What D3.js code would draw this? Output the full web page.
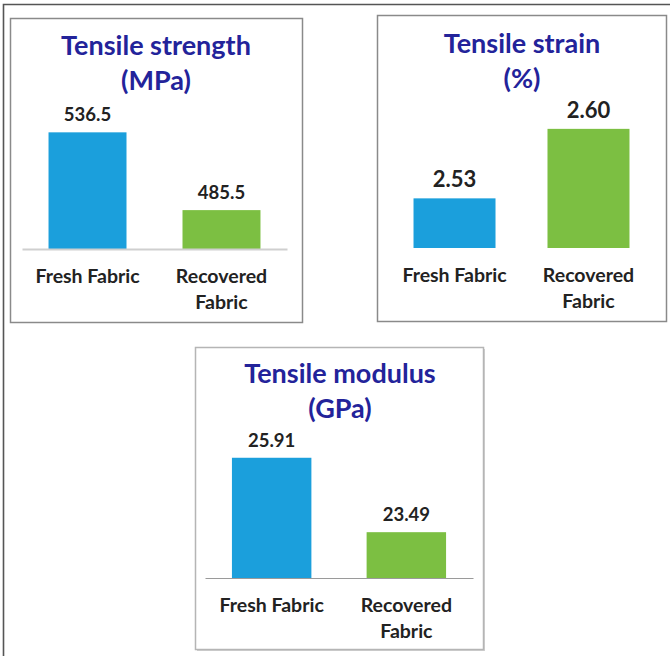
<!DOCTYPE html>
<html>
<head>
<meta charset="utf-8">
<script src="https://cdn.jsdelivr.net/npm/d3@7"></script>
<style>
  html, body { margin: 0; padding: 0; background: #fff; }
  svg { display: block; }
  text { font-family: Lato, "Open Sans", sans-serif; font-weight: bold; }
</style>
</head>
<body>
<svg id="chart" width="670" height="656"></svg>
<script>
// Fabric samples compared in every panel
const categories = ["Fresh Fabric", "Recovered Fabric"];
// Category label broken across lines
const categoryLines = [["Fresh Fabric"], ["Recovered", "Fabric"]];

// Measured properties
const strengthValues = [536.5, 485.5];   // MPa
const strainValues   = [2.53, 2.60];     // %
const modulusValues  = [25.91, 23.49];   // GPa

// Value label text, as printed above the bars
const strengthLabels = ["536.5", "485.5"];
const strainLabels   = ["2.53", "2.60"];
const modulusLabels  = ["25.91", "23.49"];

// Panel titles (two lines each)
const strengthTitle = ["Tensile strength", "(MPa)"];
const strainTitle   = ["Tensile strain", "(%)"];
const modulusTitle  = ["Tensile modulus", "(GPa)"];

// Value-axis ranges (axis is not drawn, bars start at the axis minimum)
const strengthDomain = [460, 540];
const strainDomain   = [2.48, 2.62];
const modulusDomain  = [22, 26];

const barColors = ["#1b9fdc", "#7cbf42"];
const titleColor = "#23239a";
const textColor = "#222";

const svg = d3.select("#chart");
svg.append("rect").attr("width", 670).attr("height", 656).attr("fill", "#fff");

// Outer frame: top and left edges
svg.append("path")
  .attr("d", "M3.5,656 L3.5,4.5 L670,4.5")
  .attr("fill", "none").attr("stroke", "#555").attr("stroke-width", 1.6);

const panels = [
  {
    title: strengthTitle, values: strengthValues, labels: strengthLabels, domain: strengthDomain,
    box: [10, 18, 302, 322], border: "#8a8a8a", shadow: false,
    titleX: 156, titleY: [55, 90], titleSize: 27,
    xRange: [22, 287], padIn: 0.418, padOut: 0.198,
    yRange: [249, 127], axisColor: "#cfcfcf", axisWidth: 2,
    valueSize: 18.5
  },
  {
    title: strainTitle, values: strainValues, labels: strainLabels, domain: strainDomain,
    box: [377, 15, 666, 321], border: "#8a8a8a", shadow: false,
    titleX: 522, titleY: [53, 88], titleSize: 27,
    xRange: [389, 654], padIn: 0.388, padOut: 0.183,
    yRange: [248, 109], axisColor: "none", axisWidth: 0,
    valueSize: 22
  },
  {
    title: modulusTitle, values: modulusValues, labels: modulusLabels, domain: modulusDomain,
    box: [195, 347, 483, 649], border: "#b5b5b5", shadow: true,
    titleX: 340, titleY: [383, 418], titleSize: 27,
    xRange: [205, 473], padIn: 0.41, padOut: 0.2,
    yRange: [578, 455], axisColor: "#9a9a9a", axisWidth: 1.2,
    valueSize: 18.5
  }
];

panels.forEach(p => {
  const g = svg.append("g");
  const [x0, y0, x1, y1] = p.box;

  if (p.shadow) {
    g.append("rect")
      .attr("x", x0 + 2).attr("y", y0 + 2)
      .attr("width", x1 - x0).attr("height", y1 - y0)
      .attr("fill", "#d0d0d0");
  }
  g.append("rect")
    .attr("x", x0 + 0.5).attr("y", y0 + 0.5)
    .attr("width", x1 - x0).attr("height", y1 - y0)
    .attr("fill", "#fff").attr("stroke", p.border).attr("stroke-width", 1.5);

  // Title
  p.title.forEach((line, i) => {
    g.append("text")
      .attr("x", p.titleX).attr("y", p.titleY[i])
      .attr("text-anchor", "middle")
      .attr("fill", titleColor)
      .style("font-size", p.titleSize + "px")
      .text(line);
  });

  const x = d3.scaleBand()
    .domain(categories)
    .range(p.xRange)
    .paddingInner(p.padIn)
    .paddingOuter(p.padOut);

  const y = d3.scaleLinear()
    .domain(p.domain)
    .range(p.yRange);

  // Bars
  g.selectAll(".bar")
    .data(categories)
    .join("rect")
    .attr("class", "bar")
    .attr("x", d => x(d))
    .attr("width", x.bandwidth())
    .attr("y", (d, i) => y(p.values[i]))
    .attr("height", (d, i) => y(p.domain[0]) - y(p.values[i]))
    .attr("fill", (d, i) => barColors[i]);

  // Value labels
  g.selectAll(".val")
    .data(categories)
    .join("text")
    .attr("class", "val")
    .attr("x", d => x(d) + x.bandwidth() / 2)
    .attr("y", (d, i) => y(p.values[i]) - 11)
    .attr("text-anchor", "middle")
    .attr("fill", textColor)
    .style("font-size", p.valueSize + "px")
    .text((d, i) => p.labels[i]);

  // Category axis
  const axis = g.append("g")
    .attr("transform", `translate(0,${y(p.domain[0])})`)
    .call(d3.axisBottom(x).tickSize(0).tickPadding(0).tickSizeOuter(0));
  axis.select(".domain")
    .attr("stroke", p.axisColor)
    .attr("stroke-width", p.axisWidth);
  axis.selectAll(".tick text")
    .attr("fill", textColor)
    .attr("dy", null)
    .attr("y", 0)
    .style("font-size", "19.5px")
    .style("font-family", "Lato, 'Open Sans', sans-serif")
    .each(function(d) {
      const t = d3.select(this);
      const lines = categoryLines[categories.indexOf(d)];
      t.text(null);
      lines.forEach((ln, i) => {
        t.append("tspan")
          .attr("x", 0)
          .attr("y", 34 + i * 26)
          .text(ln);
      });
    });
});
</script>
</body>
</html>
